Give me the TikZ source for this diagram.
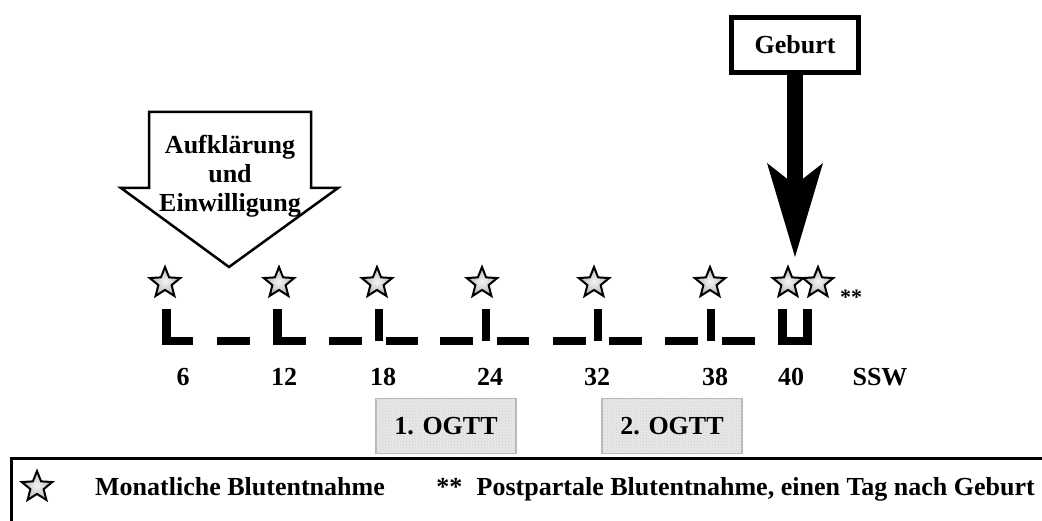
\documentclass[tikz,border=0pt]{standalone}
\usepackage{fontspec}
\setmainfont{Liberation Serif}
\usetikzlibrary{shapes.geometric,positioning,patterns,arrows.meta}

\begin{document}
\begin{tikzpicture}[x=1pt, y=-1pt,
	lbl/.style = {font=\bfseries\fontsize{26}{29}\selectfont, inner sep=0pt},
	mstar/.style = {star, star points=5, star point ratio=2.3, minimum size=32pt, inner sep=0pt,
		draw=black, line width=2pt, inner color=gray!8, outer color=gray!60},
	ogtt/.style = {draw=gray!55, line width=1.5pt, fill=gray!18,
		postaction={pattern=crosshatch dots, pattern color=gray!40},
		minimum width=140pt, minimum height=55pt, font=\bfseries\fontsize{26}{29}\selectfont}]
\useasboundingbox (0,0) rectangle (1042,521);

\draw[line width=2.5pt, line join=miter] (149,112) -- (311,112) -- (311,188) -- (338,188) -- (229,267) -- (121,188) -- (149,188) -- cycle;
\node[lbl, align=center]                                          (consent) at (230,176) {Aufklärung\\und\\Einwilligung};
\node[draw, line width=5pt, minimum width=127pt, minimum height=55pt, lbl] (birth)   at (795,45)  {Geburt};
\coordinate (birthtip) at (795,257);
\draw[line width=16pt, -{Stealth[length=94pt, width=56pt, inset=22pt, line width=0pt]}] (birth.south) -- (birthtip);

% timeline
\foreach \xa/\xb in {162/193, 217/250, 273/306, 329/362, 386/418, 440/473, 497/529, 553/586, 609/642, 665/698, 722/755, 778/812}
	\fill (\xa,337) rectangle (\xb,345);
\foreach \xa in {162,273,778,803}
	\fill (\xa,309) rectangle ++(9,36);
\foreach \xa in {375,482,594,707}
	\fill (\xa,309) rectangle ++(8,32);

\foreach \sx [count=\i] in {165,279,377,482,594,710,788,818}
	\node[mstar] (star\i) at (\sx,283) {};
\node[font=\bfseries\fontsize{22}{24}\selectfont, inner sep=0pt] (pp) at (851,297) {**};

\foreach \lx/\lt in {183/6, 284/12, 383/18, 490/24, 597/32, 715/38, 791/40, 880/SSW}
	\node[lbl] (wk\lt) at (\lx,377) {\lt};

\node[ogtt] (ogtt1) at (446,426) {1. OGTT};
\node[ogtt] (ogtt2) at (672,426) {2. OGTT};

% legend
\draw[line width=3pt] (1060,458) -- (11,458) -- (11,540);
\node[mstar] (keystar) at (37,487) {};
\node[lbl, anchor=base west] (keymonth) at (95,495) {Monatliche Blutentnahme};
\node[lbl, anchor=base east] (keypost)  at (1035,495) {Postpartale Blutentnahme, einen Tag nach Geburt};
\node[lbl, base left=14pt of keypost] (keypp) {**};
\end{tikzpicture}
\end{document}
